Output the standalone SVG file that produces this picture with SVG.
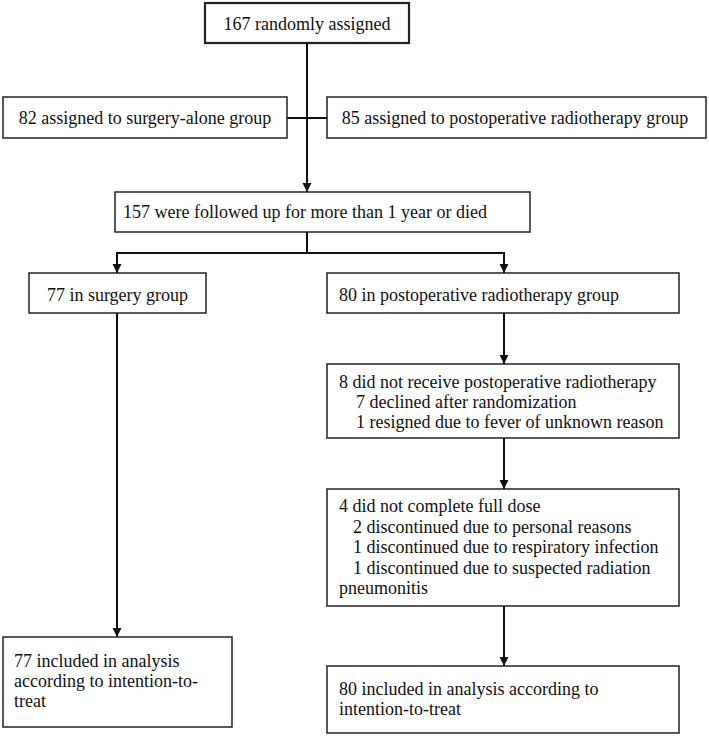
<svg xmlns="http://www.w3.org/2000/svg" width="709" height="736" viewBox="0 0 709 736">
<style>
.box{fill:#fff;stroke:#222;stroke-width:1.5}
.thick{stroke-width:2.2}
.t{font-family:"Liberation Serif","Times New Roman",serif;font-size:18px;fill:#111}
.c{text-anchor:middle}
.ln{fill:none;stroke:#111;stroke-width:2}
</style>
<defs>
<marker id="ah" markerWidth="10" markerHeight="10" refX="9" refY="5" orient="auto" markerUnits="userSpaceOnUse">
<path d="M0,0.5 L9,5 L0,9.5 Z" fill="#111"/>
</marker>
</defs>
<rect width="709" height="736" fill="#fff"/>
<g id="connectors">
<path class="ln" d="M307,43 V192" marker-end="url(#ah)"/>
<path class="ln" d="M287,118 H327"/>
<path class="ln" d="M307,232 V253 M117,253 H504"/>
<path class="ln" d="M117,252 V273" marker-end="url(#ah)"/>
<path class="ln" d="M504,252 V273" marker-end="url(#ah)"/>
<path class="ln" d="M504,313 V364" marker-end="url(#ah)"/>
<path class="ln" d="M504,438 V489" marker-end="url(#ah)"/>
<path class="ln" d="M504,606 V666" marker-end="url(#ah)"/>
<path class="ln" d="M117,313 V637" marker-end="url(#ah)"/>
</g>
<g id="n-randomized">
<rect class="box thick" x="205" y="3" width="204" height="40"/>
<text class="t c" x="307" y="30">167 randomly assigned</text>
</g>
<g id="n-surgery-alone">
<rect class="box" x="3" y="97" width="284" height="41"/>
<text class="t c" x="145" y="124">82 assigned to surgery-alone group</text>
</g>
<g id="n-port-assigned">
<rect class="box" x="327" y="97" width="379" height="41"/>
<text class="t c" x="515" y="124">85 assigned to postoperative radiotherapy group</text>
</g>
<g id="n-followed">
<rect class="box" x="115" y="192" width="415" height="40"/>
<text class="t" x="123" y="218">157 were followed up for more than 1 year or died</text>
</g>
<g id="n-surgery-group">
<rect class="box" x="29" y="273" width="177" height="40"/>
<text class="t c" x="117.5" y="301">77 in surgery group</text>
</g>
<g id="n-port-group">
<rect class="box" x="327" y="273" width="352" height="40"/>
<text class="t" x="339" y="301">80 in postoperative radiotherapy group</text>
</g>
<g id="n-not-received">
<rect class="box" x="327" y="364" width="352" height="74"/>
<text class="t" x="339" y="388">8 did not receive postoperative radiotherapy</text>
<text class="t" x="356" y="408">7 declined after randomization</text>
<text class="t" x="356" y="428">1 resigned due to fever of unknown reason</text>
</g>
<g id="n-not-complete">
<rect class="box" x="327" y="489" width="352" height="117"/>
<text class="t" x="339" y="512">4 did not complete full dose</text>
<text class="t" x="353" y="532.5">2 discontinued due to personal reasons</text>
<text class="t" x="353" y="553">1 discontinued due to respiratory infection</text>
<text class="t" x="353" y="573.5">1 discontinued due to suspected radiation</text>
<text class="t" x="339" y="594">pneumonitis</text>
</g>
<g id="n-analysis-surgery">
<rect class="box" x="3" y="637" width="229" height="90"/>
<text class="t" x="14" y="667">77 included in analysis</text>
<text class="t" x="14" y="687">according to intention-to-</text>
<text class="t" x="14" y="707">treat</text>
</g>
<g id="n-analysis-port">
<rect class="box" x="327" y="666" width="352" height="67"/>
<text class="t" x="339" y="695">80 included in analysis according to</text>
<text class="t" x="339" y="715">intention-to-treat</text>
</g>
</svg>
